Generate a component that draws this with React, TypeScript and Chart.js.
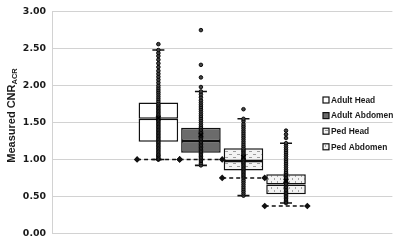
import React, { useEffect, useRef } from 'react';
import { Chart, registerables } from 'chart.js';
Chart.register(...registerables);

const groups = ['Adult Head', 'Adult Abdomen', 'Ped Head', 'Ped Abdomen'];
const categories = ['pad-a', 'pad-b', 'Adult Head', 'Adult Abdomen', 'Ped Head', 'Ped Abdomen', 'pad-c', 'pad-d'];
const yTicks = [0, 0.5, 1.0, 1.5, 2.0, 2.5, 3.0];

const q1 = [1.24, 1.09, 0.85, 0.53];
const median = [1.55, 1.25, 0.98, 0.66];
const q3 = [1.77, 1.43, 1.15, 0.8];
const whiskerMin = [1.0, 0.92, 0.51, 0.41];
const whiskerMax = [2.48, 1.92, 1.55, 1.22];
const means = [1.56, 1.33, 1.03, 0.71];
const thresholds = [1.0, 1.0, 0.75, 0.37];

const adultHeadPts = [1.0, 1.0, 1.01, 1.03, 1.05, 1.06, 1.08, 1.1, 1.12, 1.14, 1.16, 1.18, 1.2, 1.22, 1.24, 1.26, 1.28, 1.3, 1.32, 1.34, 1.36, 1.38, 1.4, 1.42, 1.44, 1.46, 1.48, 1.5, 1.52, 1.54, 1.56, 1.58, 1.6, 1.62, 1.64, 1.66, 1.68, 1.7, 1.72, 1.74, 1.76, 1.79, 1.82, 1.85, 1.88, 1.91, 1.94, 1.97, 2.0, 2.04, 2.08, 2.12, 2.16, 2.2, 2.25, 2.3, 2.35, 2.4, 2.44, 2.48, 2.56];
const adultAbdomenPts = [0.92, 0.95, 0.98, 1.0, 1.02, 1.04, 1.06, 1.08, 1.1, 1.12, 1.14, 1.16, 1.18, 1.2, 1.22, 1.24, 1.26, 1.28, 1.3, 1.32, 1.34, 1.36, 1.38, 1.4, 1.42, 1.44, 1.47, 1.5, 1.53, 1.56, 1.59, 1.62, 1.65, 1.68, 1.71, 1.74, 1.77, 1.8, 1.84, 1.88, 1.92, 1.98, 2.11, 2.28, 2.75];
const pedHeadPts = [0.51, 0.54, 0.57, 0.6, 0.63, 0.66, 0.69, 0.72, 0.75, 0.77, 0.79, 0.81, 0.83, 0.85, 0.87, 0.89, 0.91, 0.93, 0.95, 0.97, 0.99, 1.01, 1.03, 1.05, 1.07, 1.09, 1.11, 1.13, 1.15, 1.18, 1.21, 1.24, 1.27, 1.3, 1.33, 1.36, 1.39, 1.42, 1.45, 1.48, 1.52, 1.55, 1.68];
const pedAbdomenPts = [0.41, 0.43, 0.45, 0.47, 0.49, 0.51, 0.53, 0.55, 0.57, 0.59, 0.61, 0.63, 0.65, 0.67, 0.69, 0.71, 0.73, 0.75, 0.77, 0.79, 0.81, 0.83, 0.86, 0.89, 0.92, 0.95, 0.98, 1.01, 1.04, 1.07, 1.1, 1.13, 1.16, 1.19, 1.22, 1.29, 1.34, 1.39];
const groupPoints = [adultHeadPts, adultAbdomenPts, pedHeadPts, pedAbdomenPts];

function makePattern(kind: string) {
  const c = document.createElement('canvas');
  const g = c.getContext('2d')!;
  if (kind === 'dash') {
    c.width = 8; c.height = 6;
    g.fillStyle = '#f3f3f3'; g.fillRect(0, 0, 8, 6);
    g.fillStyle = '#9c9c9c';
    g.fillRect(1, 1, 3, 1);
    g.fillRect(5, 4, 3, 1);
  } else {
    c.width = 6; c.height = 6;
    g.fillStyle = '#f3f3f3'; g.fillRect(0, 0, 6, 6);
    g.fillStyle = '#a4a4a4';
    g.fillRect(1, 1, 1, 2);
    g.fillRect(4, 4, 1, 2);
  }
  return g.createPattern(c, 'repeat')!;
}

export default function App() {
  const ref = useRef<HTMLCanvasElement>(null);
  useEffect(() => {
    document.body.style.margin = '0';
    const fills: any[] = ['#ffffff', '#6b6b6b', makePattern('dash'), makePattern('dot')];
    const byCat = (fn: (i: number) => any) => categories.map((c) => {
      const i = groups.indexOf(c);
      return i < 0 ? null : fn(i);
    });
    const catFills = byCat((i) => fills[i]);

    const datasets: any[] = [
      {
        type: 'bar', label: 'lower', data: byCat((i) => [q1[i], median[i]]),
        backgroundColor: catFills, borderColor: '#111', borderWidth: 1.5, borderSkipped: false,
        grouped: false, barPercentage: 0.93, categoryPercentage: 1, order: 10,
      },
      {
        type: 'bar', label: 'upper', data: byCat((i) => [median[i], q3[i]]),
        backgroundColor: catFills, borderColor: '#111', borderWidth: 1.5, borderSkipped: false,
        grouped: false, barPercentage: 0.93, categoryPercentage: 1, order: 9,
      },
      {
        type: 'bar', label: 'whisker', data: byCat((i) => [whiskerMin[i], whiskerMax[i]]),
        backgroundColor: '#111', borderWidth: 0, grouped: false, barThickness: 1.4, order: 5,
      },
      {
        type: 'line', label: 'caps', showLine: false,
        data: groups.flatMap((g, i) => [{ x: g, y: whiskerMin[i] }, { x: g, y: whiskerMax[i] }]),
        pointStyle: 'line', pointRadius: 6, pointBorderWidth: 1.6, pointBorderColor: '#111', order: 4,
      },
    ];
    groups.forEach((g, i) => {
      const c = categories.indexOf(g);
      datasets.push({
        type: 'line', label: 'threshold ' + g, xAxisID: 'x2',
        data: [{ x: c - 0.5, y: thresholds[i] }, { x: c + 0.5, y: thresholds[i] }],
        borderColor: '#111', borderWidth: 1.6, borderDash: [4, 3],
        pointStyle: 'rectRot', pointRadius: 2.2, pointBackgroundColor: '#111', pointBorderColor: '#111',
        order: 3,
      });
      datasets.push({
        type: 'line', label: 'points ' + g, showLine: false,
        data: groupPoints[i].map((v) => ({ x: g, y: v })),
        pointStyle: 'circle', pointRadius: 1.8, pointBackgroundColor: '#444', pointBorderColor: '#000',
        pointBorderWidth: 0.9, order: 2,
      });
    });
    datasets.push({
      type: 'line', label: 'mean', showLine: false,
      data: groups.map((g, i) => ({ x: g, y: means[i] })),
      pointStyle: 'crossRot', pointRadius: 3.2, pointBorderWidth: 1.5, pointBorderColor: '#000', order: 1,
    });

    const overlay = {
      id: 'overlay',
      afterDraw(chart: any) {
        const ctx = chart.ctx as CanvasRenderingContext2D;
        const area = chart.chartArea;
        const rowY = [100, 115.6, 131.2, 146.8];
        ctx.save();
        groups.forEach((g, i) => {
          const y = rowY[i];
          ctx.fillStyle = fills[i];
          ctx.fillRect(323, y - 3, 6, 6);
          ctx.strokeStyle = '#111';
          ctx.lineWidth = 1.2;
          ctx.strokeRect(323, y - 3, 6, 6);
          ctx.fillStyle = '#1a1a1a';
          ctx.font = 'bold 8.4px "Liberation Sans", Arial, sans-serif';
          ctx.textBaseline = 'middle';
          ctx.textAlign = 'left';
          ctx.fillText(g, 331, y + 0.5);
        });
        const mainFont = 'bold 11px "Liberation Sans", Arial, sans-serif';
        const subFont = 'bold 7.5px "Liberation Sans", Arial, sans-serif';
        ctx.font = mainFont;
        const mainText = 'Measured CNR';
        const mw = ctx.measureText(mainText).width;
        ctx.font = subFont;
        const sw = ctx.measureText('ACR').width;
        const cy = (area.top + area.bottom) / 2 - 7;
        ctx.translate(12, cy);
        ctx.rotate(-Math.PI / 2);
        const start = -(mw + sw) / 2;
        ctx.fillStyle = '#1a1a1a';
        ctx.textAlign = 'left';
        ctx.textBaseline = 'middle';
        ctx.font = mainFont;
        ctx.fillText(mainText, start, 0);
        ctx.font = subFont;
        ctx.fillText('ACR', start + mw, 3);
        ctx.restore();
      },
    };

    const chart = new Chart(ref.current!, {
      type: 'bar',
      data: { labels: categories, datasets },
      options: {
        animation: false,
        responsive: true,
        maintainAspectRatio: false,
        layout: { padding: { left: 8, top: 9, right: 4, bottom: 8 } },
        plugins: { legend: { display: false }, tooltip: { enabled: false } },
        scales: {
          x: { type: 'category', display: false, offset: true },
          x2: { type: 'linear', display: false, min: -0.5, max: 7.5, offset: false },
          y: {
            type: 'linear', min: 0, max: 3,
            afterFit: (s: any) => { s.width = 44; },
            afterBuildTicks: (s: any) => { s.ticks = yTicks.map((v) => ({ value: v })); },
            ticks: {
              padding: 6, color: '#1a1a1a',
              font: { family: '"DejaVu Sans", sans-serif', weight: 'bold', size: 9.4 },
              callback: (v: any) => Number(v).toFixed(2),
            },
            grid: { color: '#d2d2d2', lineWidth: 1, drawTicks: false },
            border: { display: true, color: '#d2d2d2' },
          },
        },
      } as any,
      plugins: [overlay],
    });
    return () => chart.destroy();
  }, []);
  return (
    <div style={{ width: 400, height: 245, position: 'relative', background: '#fff' }}>
      <canvas ref={ref} />
    </div>
  );
}
